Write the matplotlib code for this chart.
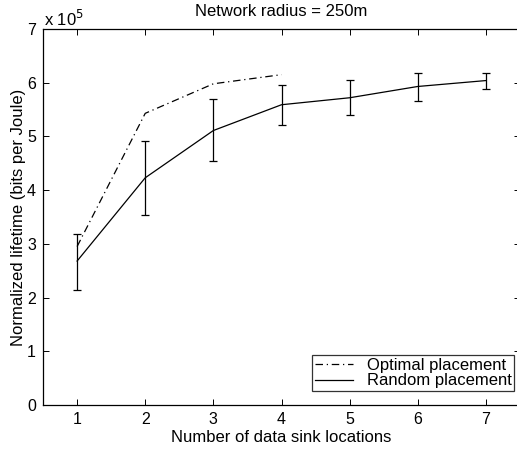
import numpy as np
import matplotlib.pyplot as plt
from matplotlib.lines import Line2D

plt.rcParams['font.family'] = ['Liberation Sans', 'DejaVu Sans']

# sink counts and lifetimes (units of 1e5 bits per Joule)
sinks = [1, 2, 3, 4, 5, 6, 7]
optimal_sinks = [1, 2, 3, 4]
optimal = [2.95, 5.43, 5.98, 6.15]
random_mean = [2.68, 4.23, 5.11, 5.59, 5.72, 5.93, 6.04]
random_low = [2.15, 3.53, 4.54, 5.21, 5.40, 5.66, 5.88]
random_high = [3.19, 4.92, 5.69, 5.96, 6.05, 6.19, 6.19]

scale = 1e5
opt = np.array(optimal) * scale
mean = np.array(random_mean) * scale
lo = mean - np.array(random_low) * scale
hi = np.array(random_high) * scale - mean

dashdot = (0, (6, 3, 1, 3))

fig = plt.figure(figsize=(5.17, 4.51), dpi=100)
ax = fig.add_axes([0.0832, 0.102, 0.9226, 0.8337])

ax.plot(optimal_sinks, opt, color='black', lw=0.9, ls=dashdot)
ax.errorbar(sinks, mean, yerr=[lo, hi], color='black', lw=0.9,
            elinewidth=0.9, capsize=3, capthick=0.9)

ax.set_xlim(0.5, 7.5)
ax.set_ylim(0, 7 * scale)
ax.set_xticks(sinks)
ax.set_yticks(np.arange(0, 8) * scale)
ax.set_yticklabels([str(v) for v in range(8)])
ax.tick_params(direction='in', top=True, right=True, length=4,
               labelsize=11.5, width=0.7, pad=5)
for s in ax.spines.values():
    s.set_linewidth(0.9)

ax.set_xlabel('Number of data sink locations', fontsize=12, labelpad=2)
ax.set_ylabel('Normalized lifetime (bits per Joule)', fontsize=12, labelpad=1)
ax.set_title('Network radius = 250m', fontsize=12, pad=9)
ax.text(0.003, 1.0, 'x 10$^5$', transform=ax.transAxes, fontsize=12,
        ha='left', va='bottom')

# legend with plain line handles
handles = [Line2D([], [], color='black', lw=0.9, ls=dashdot),
           Line2D([], [], color='black', lw=0.9)]
labels = ['Optimal placement', 'Random placement']
leg = ax.legend(handles, labels, loc='lower right',
                bbox_to_anchor=(514 / 517, (451 - 391) / 451),
                bbox_transform=fig.transFigure, fontsize=12, frameon=True,
                fancybox=False, edgecolor='black', handlelength=2.3,
                handletextpad=0.8, borderpad=0.15, labelspacing=0.05,
                borderaxespad=0)
leg.get_frame().set_linewidth(0.9)

fig.savefig('out.png', dpi=100)
